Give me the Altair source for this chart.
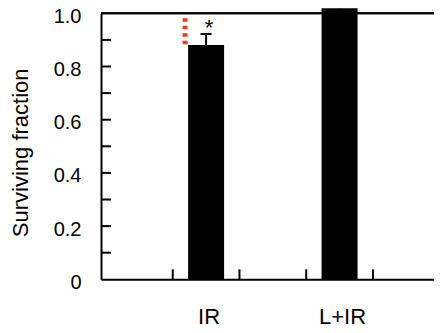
import altair as alt
import pandas as pd

# ---- data ----
categories = ["IR", "L+IR"]
means = [0.881, 1.019]
errors = [0.041, 0.010]
marks = ["*", ""]
y_tick_values = [0.1, 0.2, 0.3, 0.4, 0.5, 0.6, 0.7, 0.8, 0.9]
y_label_values = [0, 0.2, 0.4, 0.6, 0.8, 1.0]
x_tick_values = [1, 2, 3, 4]
red_range = [0.883, 0.981]  # dotted red marker beside the IR bar

# each category sits in the middle of its own slot on the x axis
slots = [2 * i + 1.5 for i in range(len(categories))]
df = pd.DataFrame({
    "cat": categories,
    "x": slots,
    "mean": means,
    "top": [m + e for m, e in zip(means, errors)],
    "mark": marks,
})
red_df = pd.DataFrame({"x": [slots[0]], "lo": [red_range[0]], "hi": [red_range[1]]})
yt_df = pd.DataFrame({"v": y_tick_values})
xt_df = pd.DataFrame({"v": x_tick_values})

W, H = 333, 266
FONT = "Liberation Sans"
xscale = alt.Scale(domain=[0, 4.84], nice=False, zero=False)
yscale = alt.Scale(domain=[0, 1], nice=False)

yaxis = alt.Axis(
    values=y_label_values,
    labelExpr="datum.value == 0 ? '0' : format(datum.value, '.1f')",
    ticks=False, tickSize=0, grid=False,
    domain=True, domainColor="black", domainWidth=2,
    labelFont=FONT, labelFontSize=20, labelColor="black",
    labelPadding=20, labelOffset=3, labelFlush=False,
    title="Surviving fraction", titleFont=FONT, titleFontSize=22,
    titleFontWeight="normal", titleColor="black",
    titleX=-81, titleY=139, titleAngle=270,
    titleAlign="center", titleBaseline="middle",
)
xaxis = alt.Axis(domain=True, domainColor="black", domainWidth=2,
                 ticks=False, labels=False, grid=False, title=None)

X = lambda f: alt.X(f, scale=xscale, axis=xaxis)
Y = lambda f: alt.Y(f, scale=yscale, axis=yaxis)

base = alt.Chart(df)

bars = base.mark_bar(color="black", size=36).encode(x=X("x:Q"), y=Y("mean:Q"))
err_line = base.mark_rule(color="black", strokeWidth=2).encode(
    x=X("x:Q"), y=Y("mean:Q"), y2="top:Q")
err_cap = base.mark_rule(color="black", strokeWidth=2, xOffset=-5.5, x2Offset=5.5).encode(
    x=X("x:Q"), x2="x:Q", y=Y("top:Q"))
star = base.mark_text(font=FONT, fontSize=22, color="black", dx=3, dy=1,
                      baseline="alphabetic", align="center").encode(
    x=X("x:Q"), y=Y("top:Q"), text="mark:N")
red = alt.Chart(red_df).mark_rule(color="#ee3a1c", strokeWidth=5,
                                  strokeDash=[3.5, 4], xOffset=-21).encode(
    x=X("x:Q"), y=Y("hi:Q"), y2="lo:Q")
yticks = alt.Chart(yt_df).mark_rule(color="black", strokeWidth=2).encode(
    y=Y("v:Q"), x=alt.value(0), x2=alt.value(10))
xticks = alt.Chart(xt_df).mark_rule(color="black", strokeWidth=2).encode(
    x=X("v:Q"), y=alt.value(H), y2=alt.value(H - 10))
top_line = alt.Chart(df).mark_rule(color="black", strokeWidth=2).encode(
    x=alt.value(0), x2=alt.value(W), y=alt.value(0))
xlabels = base.mark_text(font=FONT, fontSize=22, color="black", dx=3,
                         baseline="alphabetic", align="center").encode(
    x=X("x:Q"), y=alt.value(H + 44.5), text="cat:N")

chart = alt.layer(
    bars, err_line, err_cap, star, red, yticks, xticks, top_line, xlabels
).properties(
    width=W, height=H,
    autosize=alt.AutoSizeParams(type="none"),
    padding={"left": 93, "top": 5.3, "right": 0, "bottom": 45.7},
).configure_view(stroke=None)

chart.save("out.html", embed_options={"renderer": "svg", "actions": False})
